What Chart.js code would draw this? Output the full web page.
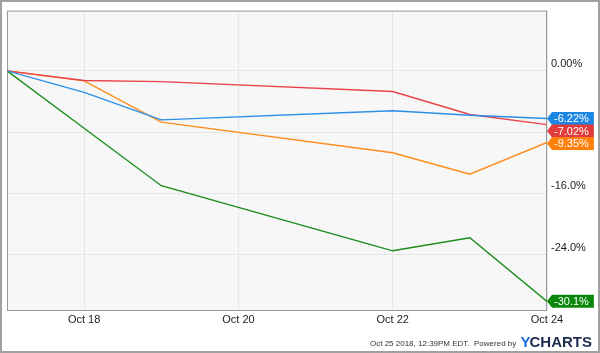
<!DOCTYPE html>
<html>
<head>
<meta charset="utf-8">
<script src="https://cdn.jsdelivr.net/npm/chart.js@4"></script>
<style>
	html, body { margin: 0; padding: 0; background: #fff; }
	#wrap { width: 600px; height: 353px; position: relative; }
</style>
</head>
<body>
<div id="wrap"><canvas id="chart" width="600" height="353"></canvas></div>
<script>
// day of month (Oct 2018)
var days = [17, 18, 19, 22, 23, 24];
var xTicks = [18, 20, 22, 24];
var yTicks = [0, -8, -16, -24];

var blueValues = [0, -2.8, -6.4, -5.2, -5.8, -6.22];
var redValues = [0, -1.25, -1.4, -2.7, -5.7, -7.02];
var orangeValues = [0, -1.3, -6.7, -10.7, -13.5, -9.35];
var greenValues = [0, -7.5, -15.0, -23.5, -21.8, -30.1];

var lastLabels = ['-6.22%', '-7.02%', '-9.35%', '-30.1%'];
var footerText = 'Oct 25 2018, 12:39PM EDT.  Powered by ';

var colors = {
	blue: { line: '#2b8fe6', tag: '#1e86e3' },
	red: { line: '#e8434a', tag: '#e23b3b' },
	orange: { line: '#ff8c1a', tag: '#ff7f0a' },
	green: { line: '#1a8c1a', tag: '#0b870b' }
};

function series(values, c) {
	return {
		data: values.map(function(v, i) { return { x: days[i], y: v }; }),
		borderColor: c.line,
		backgroundColor: c.tag,
		borderWidth: 1.4,
		pointRadius: 0,
		tension: 0,
		fill: false
	};
}

function yLabel(v) {
	if (v === 0) return '0.00%';
	return v.toFixed(1) + '%';
}

var framePlugin = {
	id: 'frame',
	beforeDraw: function(chart) {
		var ctx = chart.ctx, a = chart.chartArea;
		ctx.save();
		ctx.fillStyle = '#f7f7f7';
		ctx.fillRect(a.left, a.top, a.right - a.left, a.bottom - a.top);
		ctx.restore();
	},
	beforeDatasetsDraw: function(chart) {
		var ctx = chart.ctx, a = chart.chartArea;
		ctx.save();
		ctx.strokeStyle = '#9a9a9a';
		ctx.lineWidth = 1;
		ctx.strokeRect(a.left + 0.5, a.top + 0.5, a.right - a.left - 1, a.bottom - a.top);
		ctx.restore();
	},
	afterDraw: function(chart) {
		var ctx = chart.ctx, a = chart.chartArea;
		var y = chart.scales.y;
		ctx.save();

		// end-of-line value tags, pushed apart where they collide
		var tags = chart.data.datasets.map(function(ds, i) {
			var last = ds.data[ds.data.length - 1];
			return { y: y.getPixelForValue(last.y), color: ds.backgroundColor, text: lastLabels[i] };
		}).sort(function(p, q) { return p.y - q.y; });
		for (var i = 1; i < tags.length; i++) {
			if (tags[i].y - tags[i - 1].y < 12.5) tags[i].y = tags[i - 1].y + 12.5;
		}
		ctx.font = '11px "Liberation Sans", Arial, sans-serif';
		ctx.textBaseline = 'middle';
		ctx.textAlign = 'left';
		tags.forEach(function(t) {
			var x0 = a.right, h = 13, w = ctx.measureText(t.text).width + 7;
			ctx.fillStyle = t.color;
			ctx.beginPath();
			ctx.moveTo(x0, t.y);
			ctx.lineTo(x0 + 5, t.y - h / 2);
			ctx.lineTo(x0 + 5 + w, t.y - h / 2);
			ctx.lineTo(x0 + 5 + w, t.y + h / 2);
			ctx.lineTo(x0 + 5, t.y + h / 2);
			ctx.closePath();
			ctx.fill();
			ctx.fillStyle = '#fff';
			ctx.fillText(t.text, x0 + 7, t.y + 0.5);
		});

		// footer
		ctx.font = 'bold 15px "Liberation Sans", Arial, sans-serif';
		ctx.textBaseline = 'alphabetic';
		var wCharts = ctx.measureText('CHARTS').width;
		var wY = ctx.measureText('Y').width;
		var xr = 592;
		ctx.fillStyle = '#1d2b4f';
		ctx.fillText('CHARTS', xr - wCharts, 347);
		ctx.fillStyle = '#1a6fe0';
		ctx.fillText('Y', xr - wCharts - wY + 1, 347);
		ctx.font = '8px "Liberation Sans", Arial, sans-serif';
		ctx.fillStyle = '#333';
		ctx.textAlign = 'right';
		ctx.fillText(footerText, xr - wCharts - wY - 1, 346);

		// outer border
		ctx.strokeStyle = '#a0a0a0';
		ctx.lineWidth = 2;
		ctx.strokeRect(1, 1, 598, 351);
		ctx.restore();
	}
};

var ctx = document.getElementById('chart').getContext('2d');
var myChart = new Chart(ctx, {
	type: 'line',
	data: {
		datasets: [
			series(blueValues, colors.blue),
			series(redValues, colors.red),
			series(orangeValues, colors.orange),
			series(greenValues, colors.green)
		]
	},
	plugins: [framePlugin],
	options: {
		responsive: false,
		animation: false,
		layout: { padding: { left: 7, top: 7, right: 0, bottom: 0 } },
		plugins: { legend: { display: false }, tooltip: { enabled: false } },
		scales: {
			x: {
				type: 'linear',
				min: 17,
				max: 24,
				afterBuildTicks: function(scale) {
					scale.ticks = xTicks.map(function(v) { return { value: v }; });
				},
				afterFit: function(scale) { scale.height = 43; },
				grid: { color: '#e6e6e6', drawTicks: false },
				border: { display: false },
				ticks: {
					padding: 3,
					maxRotation: 0,
					color: '#222',
					font: { family: '"Liberation Sans", Arial, sans-serif', size: 11 },
					callback: function(v) { return 'Oct ' + v; }
				}
			},
			y: {
				position: 'right',
				min: -31.23,
				max: 7.87,
				afterBuildTicks: function(scale) {
					scale.ticks = yTicks.map(function(v) { return { value: v }; });
				},
				afterFit: function(scale) { scale.width = 53; },
				grid: { color: '#e6e6e6', drawTicks: false },
				border: { display: false },
				ticks: {
					padding: 4,
					labelOffset: -7,
					color: '#222',
					font: { family: '"Liberation Sans", Arial, sans-serif', size: 11 },
					callback: yLabel
				}
			}
		}
	}
});
myChart.update();
</script>
</body>
</html>
